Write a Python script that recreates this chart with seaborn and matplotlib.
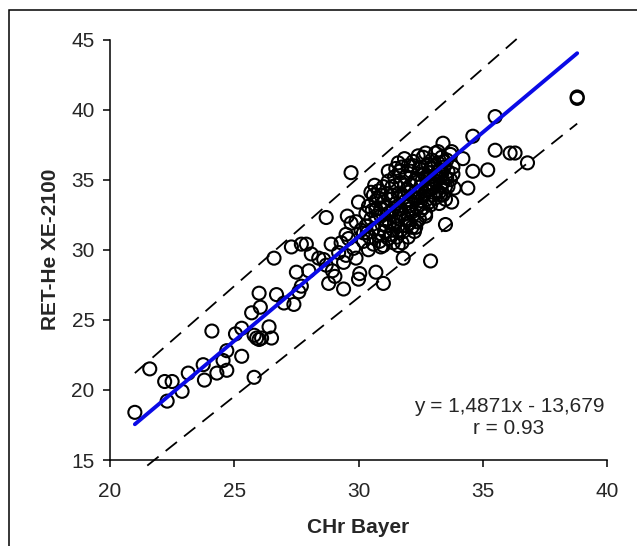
r'''
plot.py

CHr Bayer vs RET-He XE-2100 scatter with regression and limit lines.
'''

# Standard Library Imports
import sys

# Related Third-party Imports
import matplotlib
matplotlib.use('Agg')
import matplotlib.pyplot as plt
import numpy             as np
import pandas            as pd
import seaborn           as sns
from matplotlib.patches import Rectangle


# Data
# ==================================================================================================
# Scattered points outside the dense cluster
chr_bayer_outer = [21.0, 21.6, 22.2, 22.5, 22.3, 22.9, 23.15, 23.75, 23.8, 24.1,
                   24.3, 24.55, 24.7, 24.7, 25.05, 25.3, 25.3, 25.7, 26.0, 26.05,
                   25.8, 25.9, 26.0, 26.1, 26.4, 26.5, 25.8, 26.7, 26.6, 27.0,
                   27.4, 27.3, 27.5, 27.6, 27.7, 27.7, 27.9, 28.0, 28.1, 28.4,
                   28.7, 28.7, 28.8, 28.9, 28.95, 29.05, 29.4, 29.4, 29.5, 29.7,
                   29.55, 29.7, 29.9, 30.0, 30.0, 30.05, 30.4, 30.7, 31.0, 31.8,
                   32.9, 32.7, 32.3, 33.5, 33.75, 34.4, 34.6, 34.2, 33.4, 34.6,
                   35.5, 35.2, 35.5, 36.1, 36.3, 36.8, 38.8, 38.8, 29.2, 29.3,
                   29.6, 29.8, 29.9, 30.1, 29.5, 28.6, 33.75]
ret_he_outer    = [18.4, 21.5, 20.6, 20.6, 19.2, 19.9, 21.2, 21.8, 20.7, 24.2,
                   21.2, 22.1, 22.8, 21.4, 24.0, 24.4, 22.4, 25.5, 26.9, 25.9,
                   23.9, 23.7, 23.6, 23.7, 24.5, 23.7, 20.9, 26.8, 29.4, 26.2,
                   26.1, 30.2, 28.4, 27.0, 27.4, 30.4, 30.4, 28.5, 29.7, 29.4,
                   32.3, 28.9, 27.6, 30.4, 28.5, 28.1, 27.2, 29.1, 31.1, 35.5,
                   32.4, 31.9, 29.4, 33.4, 27.9, 28.3, 30.0, 28.4, 27.6, 29.4,
                   29.2, 32.4, 31.6, 31.8, 33.4, 34.4, 35.6, 36.5, 37.6, 38.1,
                   39.5, 35.7, 37.1, 36.9, 36.9, 36.2, 40.9, 40.8, 29.8, 30.5,
                   30.8, 30.1, 32.0, 31.4, 29.6, 29.3, 37.0]

# Dense cluster between CHr 30 and 34
chr_bayer_cluster = [30.2, 30.3, 30.3, 30.4, 30.5, 30.2, 30.5, 30.45,
                     30.6, 30.6, 30.7, 30.7, 30.8, 30.8, 30.9, 30.9, 30.65, 30.95, 30.85,
                     31.0, 31.05, 31.1, 31.1, 31.15, 31.2, 31.2, 31.25, 31.3, 31.3,
                     31.35, 31.4, 31.4, 31.45, 31.5, 31.5,
                     31.55, 31.6, 31.6, 31.65, 31.7, 31.7, 31.75, 31.8, 31.8, 31.85,
                     31.9, 31.9, 31.95, 32.0, 32.0, 32.0, 31.6, 31.75,
                     32.05, 32.1, 32.1, 32.15, 32.2, 32.2, 32.25, 32.3, 32.3, 32.35,
                     32.4, 32.4, 32.45, 32.5, 32.5, 32.2,
                     32.55, 32.6, 32.6, 32.65, 32.7, 32.7, 32.75, 32.8, 32.8, 32.85,
                     32.9, 32.9, 32.95, 33.0, 33.0,
                     33.05, 33.1, 33.1, 33.15, 33.2, 33.25, 33.3, 33.3, 33.35, 33.4,
                     33.45, 33.5, 33.5, 33.2,
                     33.55, 33.6, 33.6, 33.7, 33.7, 33.8, 33.85, 33.8]
ret_he_cluster    = [30.6, 31.7, 32.6, 33.1, 34.1, 31.2, 32.2, 30.9,
                     30.4, 31.5, 32.4, 33.5, 34.2, 31.0, 32.9, 33.9, 34.6, 31.8, 30.6,
                     30.3, 31.3, 32.1, 33.0, 34.0, 34.9, 30.8, 31.9, 32.7, 33.6,
                     34.5, 30.5, 31.4, 35.2, 32.4, 33.3,
                     30.9, 31.7, 34.0, 35.6, 32.9, 34.8, 30.5, 31.3, 33.7, 36.5,
                     32.2, 35.2, 34.3, 30.9, 33.1, 36.0, 36.2, 35.9,
                     31.9, 34.6, 35.6, 32.7, 33.8, 36.3, 31.3, 35.0, 34.1, 33.0,
                     36.7, 35.4, 32.2, 34.5, 33.5, 36.0,
                     35.9, 36.6, 33.0, 34.0, 35.2, 36.9, 33.6, 34.7, 36.1, 35.5,
                     33.2, 34.3, 36.4, 35.0, 35.8,
                     34.5, 36.9, 33.7, 35.3, 36.2, 34.1, 35.7, 33.9, 36.6, 34.8,
                     35.9, 33.6, 35.2, 37.0,
                     36.4, 34.5, 35.6, 35.0, 36.8, 35.9, 34.4, 35.4]

# Core of the cluster, where the circles overlap into a black mass
chr_bayer_core = [30.9, 31.0, 31.1, 31.2, 31.3, 31.35, 31.4, 31.45, 31.5, 31.55,
                  31.6, 31.65, 31.7, 31.75, 31.8, 31.85, 31.9, 31.95, 32.0, 32.05,
                  32.1, 32.15, 32.2, 32.25, 32.3, 32.35, 32.4, 32.45, 32.5, 32.55,
                  32.6, 32.65, 32.7, 32.75, 32.8, 32.85, 32.9, 32.95, 33.0, 33.05,
                  33.1, 33.15, 33.2, 33.25, 33.3, 33.35, 33.4, 33.45, 33.5, 33.55,
                  30.7, 30.8, 30.6, 30.55, 31.0, 31.2, 31.5, 30.35, 30.9, 31.6]
ret_he_core    = [32.4, 33.4, 31.7, 32.6, 31.1, 33.9, 32.9, 31.8, 34.6, 32.0,
                  33.1, 32.6, 31.4, 33.9, 32.5, 34.6, 33.5, 31.7, 34.1, 32.9,
                  33.5, 31.6, 32.5, 34.9, 33.6, 32.0, 34.0, 35.8, 32.8, 34.9,
                  33.8, 35.4, 32.6, 34.2, 35.1, 33.4, 35.8, 34.7, 33.9, 36.0,
                  34.9, 34.2, 35.6, 33.3, 34.6, 35.4, 33.9, 36.3, 34.5, 35.1,
                  32.9, 33.7, 33.9, 32.8, 34.5, 35.6, 35.8, 31.2, 30.2, 30.3]

# Regression y = 1,4871x - 13,679 over the range of the data
fit_slope     = 1.4871
fit_intercept = -13.679
fit_x_range   = [21.0, 38.8]

# Upper and lower dashed limit lines (end points)
upper_x = [21.0, 36.6]
upper_y = [21.2, 45.4]
lower_x = [21.5, 38.8]
lower_y = [14.6, 39.0]

x_ticks = [20, 25, 30, 35, 40]
y_ticks = [15, 20, 25, 30, 35, 40, 45]
# ==================================================================================================


def main() -> int:
    sns.set_style('ticks')
    plt.rcParams['font.family'] = ['Liberation Sans', 'DejaVu Sans']

    points = pd.DataFrame({'chr': chr_bayer_outer + chr_bayer_cluster + chr_bayer_core,
                           'ret': ret_he_outer + ret_he_cluster + ret_he_core})

    fig = plt.figure(figsize=(6.37, 5.46), dpi=100)
    ax  = fig.add_axes([110 / 637, 1 - 460 / 546, 497 / 637, 420.5 / 546])

    # Open circles
    sns.scatterplot(data=points,
                    x='chr',
                    y='ret',
                    ax=ax,
                    marker='o',
                    s=88,
                    facecolor='none',
                    edgecolor='black',
                    linewidth=1.5,
                    zorder=3)

    # Dashed limit lines
    for xs, ys in ((upper_x, upper_y), (lower_x, lower_y)):
        line, = ax.plot(xs, ys, color='black', lw=1.3, clip_on=False, zorder=2)
        line.set_dashes((8, 5))

    # Regression line
    fit_x = np.array(fit_x_range)
    ax.plot(fit_x, fit_slope * fit_x + fit_intercept,
            color='#0a0ae6', lw=2.8, solid_capstyle='round', zorder=4)

    ax.set_xlim(20, 40)
    ax.set_ylim(15, 45)
    ax.set_xticks(x_ticks)
    ax.set_yticks(y_ticks)
    ax.set_xlabel('CHr Bayer', fontsize=15, fontweight='bold', labelpad=12)
    ax.set_ylabel('RET-He XE-2100', fontsize=15, fontweight='bold', labelpad=8)
    ax.tick_params(axis='both', labelsize=15, length=5, width=1.1, color='black')
    ax.tick_params(axis='x', pad=11)
    ax.tick_params(axis='y', pad=6)
    sns.despine(ax=ax)
    for side in ('left', 'bottom'):
        ax.spines[side].set_linewidth(1.1)
        ax.spines[side].set_color('black')

    ax.text(0.803, 0.101, 'y = 1,4871x - 13,679\nr = 0.93',
            transform=ax.transAxes, ha='center', va='center',
            multialignment='center', fontsize=15, linespacing=1.25)

    # Frame round the whole chart (right and bottom edges fall outside)
    fig.add_artist(Rectangle((9 / 637, -0.5), 2, 0.5 + 1 - 10 / 546,
                             transform=fig.transFigure, fill=False,
                             ec='black', lw=1.1, clip_on=False))

    fig.savefig('out.png', dpi=100, facecolor='white')

    return 0


if __name__ == '__main__':
    sys.exit(main())
